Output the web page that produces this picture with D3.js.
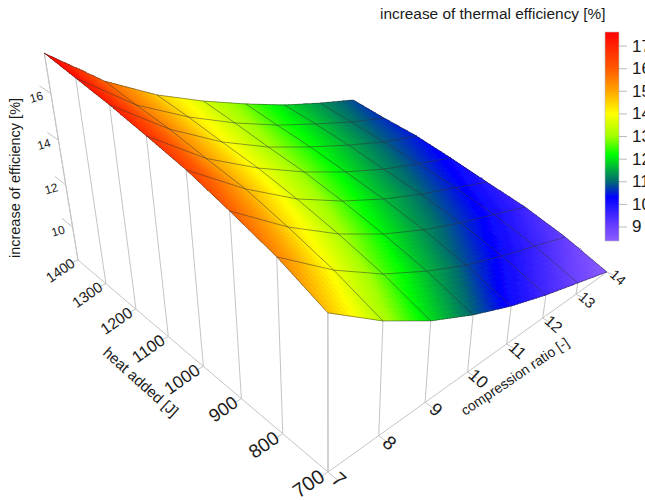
<!DOCTYPE html>
<html>
<head>
<meta charset="utf-8">
<script src="https://cdn.jsdelivr.net/npm/d3@7"></script>
<style>
  html, body { margin: 0; padding: 0; background: #fff; overflow: hidden; }
  text { font-family: "Liberation Sans", Arial, sans-serif; }
</style>
</head>
<body>
<svg id="chart" width="645" height="500"></svg>
<script>
const compressionRatio = [7, 8, 9, 10, 11, 12, 13, 14];
const heatAdded = [700, 800, 900, 1000, 1100, 1200, 1300, 1400];
const efficiencyTicks = [10, 12, 14, 16];
const legendTicks = [9, 10, 11, 12, 13, 14, 15, 16, 17];

// one row per heat added value, one column per compression ratio
const efficiency700 = [14.67, 13.15, 11.92, 10.95, 10.14, 9.48, 8.92, 8.36];
const efficiency800 = [15.43, 13.86, 12.60, 11.62, 10.80, 10.15, 9.58, 9.02];
const efficiency900 = [15.97, 14.40, 13.12, 12.11, 11.30, 10.64, 10.08, 9.51];
const efficiency1000 = [16.46, 14.86, 13.54, 12.52, 11.69, 11.00, 10.42, 9.82];
const efficiency1100 = [16.80, 15.12, 13.88, 12.85, 11.99, 11.27, 10.70, 10.16];
const efficiency1200 = [17.12, 15.42, 14.10, 13.07, 12.27, 11.56, 10.92, 10.45];
const efficiency1300 = [17.37, 15.60, 14.35, 13.33, 12.47, 11.77, 11.12, 10.59];
const efficiency1400 = [17.62, 15.83, 14.54, 13.55, 12.70, 11.93, 11.32, 10.78];
const surface = [efficiency700, efficiency800, efficiency900, efficiency1000,
                 efficiency1100, efficiency1200, efficiency1300, efficiency1400];

const zFloor = 8.36;
const zTop = 17.62;

const colorStops = [8.36, 9, 10.3, 11, 12.2, 13, 14, 15, 16, 17.62];
const colorValues = ["#8a5cff", "#6a40ff", "#0000ff", "#006a70", "#00ff00", "#a0ff00",
                     "#ffff00", "#ffa500", "#ff5a00", "#ff0000"];

const svg = d3.select("#chart");
const color = d3.scaleLinear().domain(colorStops).range(colorValues);

const uScale = d3.scaleLinear().domain([7, 14]).range([0, 1]);
const vScale = d3.scaleLinear().domain([700, 1400]).range([0, 1]);
const tScale = d3.scaleLinear().domain([zFloor, zTop]).range([0, 1]);

// perspective camera, calibrated by hand on the floor corners and z axis
function depth(cr, q, z) {
    return 1 + 0.335 * uScale(cr) + 0.3256 * vScale(q) - 0.157 * tScale(z);
}

function project(cr, q, z) {
    const u = uScale(cr), v = vScale(q), t = tScale(z);
    const w = depth(cr, q, z);
    return [
        (328 + 482.3 * u - 224.6 * v - 51.65 * t) / w,
        (472 - 108.9 * u - 127.3 * v - 282.6 * t) / w
    ];
}

const gridColor = "#c4c4c4";
const labelColor = "#1a1a1a";
const line = d3.line();

const defs = svg.append("defs");
defs.append("filter").attr("id", "soft")
    .attr("x", "-5%").attr("y", "-5%").attr("width", "110%").attr("height", "110%")
    .append("feGaussianBlur").attr("stdDeviation", 0.55);

const axes = svg.append("g").attr("fill", "none").attr("stroke", gridColor).attr("stroke-width", 1);

// floor edges and z axis
axes.append("path").attr("d", line([project(7, 700, zFloor), project(14, 700, zFloor)]));
axes.append("path").attr("d", line([project(7, 700, zFloor), project(7, 1400, zFloor)]));
axes.append("path").attr("d", line([project(7, 1400, zFloor), project(7, 1400, zTop)]));

// walls: verticals from the floor up to the surface
heatAdded.forEach((q, i) => {
    axes.append("path").attr("d", line([project(7, q, zFloor), project(7, q, surface[i][0])]));
    axes.append("path").attr("d", line([project(7, q, zFloor), project(6.85, q, zFloor)]));
});
compressionRatio.forEach((cr, j) => {
    axes.append("path").attr("d", line([project(cr, 700, zFloor), project(cr, 700, surface[0][j])]));
    axes.append("path").attr("d", line([project(cr, 700, zFloor), project(cr, 680, zFloor)]));
});
efficiencyTicks.forEach(z => {
    axes.append("path").attr("d", line([project(7, 1400, z), project(7, 1440, z)]));
});

// surface, back cells first, each cell split up so the colour runs smoothly
const steps = 10;
const cells = svg.append("g").attr("filter", "url(#soft)").attr("shape-rendering", "crispEdges");
const cellLines = svg.append("g").attr("fill", "none").attr("stroke", "#333")
    .attr("stroke-opacity", 0.7).attr("stroke-width", 0.7);

function zAt(i, j, a, b) {
    return (1 - a) * (1 - b) * surface[i][j] + (1 - a) * b * surface[i][j + 1]
        + a * (1 - b) * surface[i + 1][j] + a * b * surface[i + 1][j + 1];
}

for (let i = heatAdded.length - 2; i >= 0; i--) {
    for (let j = compressionRatio.length - 2; j >= 0; j--) {
        const qAt = a => heatAdded[i] + a * (heatAdded[i + 1] - heatAdded[i]);
        const crAt = b => compressionRatio[j] + b * (compressionRatio[j + 1] - compressionRatio[j]);
        for (let m = steps - 1; m >= 0; m--) {
            for (let n = steps - 1; n >= 0; n--) {
                const a0 = m / steps, a1 = (m + 1) / steps, b0 = n / steps, b1 = (n + 1) / steps;
                const quad = [
                    project(crAt(b0), qAt(a0), zAt(i, j, a0, b0)),
                    project(crAt(b1), qAt(a0), zAt(i, j, a0, b1)),
                    project(crAt(b1), qAt(a1), zAt(i, j, a1, b1)),
                    project(crAt(b0), qAt(a1), zAt(i, j, a1, b0))
                ];
                const c = color(zAt(i, j, (a0 + a1) / 2, (b0 + b1) / 2));
                cells.append("path")
                    .attr("d", line(quad) + "Z")
                    .attr("fill", c)
                    .attr("stroke", c)
                    .attr("stroke-width", 0.5);
            }
        }
    }
}

// mesh lines
surface.forEach((row, i) => {
    cellLines.append("path").attr("d", line(row.map((z, j) => project(compressionRatio[j], heatAdded[i], z))));
});
compressionRatio.forEach((cr, j) => {
    cellLines.append("path").attr("d", line(surface.map((row, i) => project(cr, heatAdded[i], row[j]))));
});

// tick labels, they shrink with distance like in the perspective view
const fontByDepth = d3.scaleLinear().domain([1, 1.33]).range([20, 14]);

const labels = svg.append("g").attr("fill", labelColor);

heatAdded.forEach(q => {
    const p = project(7, q, zFloor);
    const f = fontByDepth(depth(7, q, zFloor));
    labels.append("text")
        .attr("transform", `translate(${p[0] - 2},${p[1] + f * 0.38}) rotate(-35)`)
        .attr("text-anchor", "end")
        .attr("font-size", f)
        .text(q);
});
compressionRatio.forEach(cr => {
    const p = project(cr, 700, zFloor);
    const f = fontByDepth(depth(cr, 700, zFloor));
    labels.append("text")
        .attr("transform", `translate(${p[0] + 11},${p[1] + f * 0.38}) rotate(42)`)
        .attr("text-anchor", "middle")
        .attr("dy", "0.35em")
        .attr("font-size", f)
        .text(cr);
});
efficiencyTicks.forEach(z => {
    const p = project(7, 1400, z);
    labels.append("text")
        .attr("transform", `translate(${p[0] - 7},${p[1] + 6}) rotate(-16)`)
        .attr("text-anchor", "end")
        .attr("font-size", 12)
        .text(z);
});

labels.append("text")
    .attr("transform", "translate(20,178) rotate(-90)")
    .attr("text-anchor", "middle")
    .attr("font-size", 14.5)
    .text("increase of efficiency [%]");
labels.append("text")
    .attr("transform", "translate(102,354) rotate(42)")
    .attr("font-size", 15)
    .text("heat added [J]");
labels.append("text")
    .attr("transform", "translate(465,416) rotate(-34)")
    .attr("font-size", 14)
    .text("compression ratio [-]");

// legend
const legendY = d3.scaleLinear().domain([zFloor, 17.6]).range([241, 32]);
const grad = defs.append("linearGradient").attr("id", "legendGrad")
    .attr("x1", 0).attr("x2", 0).attr("y1", 1).attr("y2", 0);
colorStops.forEach((s, i) => {
    grad.append("stop")
        .attr("offset", (s - zFloor) / (zTop - zFloor))
        .attr("stop-color", colorValues[i]);
});
svg.append("rect")
    .attr("x", 605).attr("y", 32).attr("width", 14).attr("height", 209)
    .attr("fill", "url(#legendGrad)")
    .attr("stroke", "#bbb").attr("stroke-width", 0.6);

const legendAxis = d3.axisRight(legendY).tickValues(legendTicks).tickSize(8).tickPadding(5).tickSizeOuter(0);
const legendG = svg.append("g").attr("transform", "translate(619,0)").call(legendAxis);
legendG.select(".domain").remove();
legendG.selectAll("line").attr("stroke", "#bbb");
legendG.selectAll("text")
    .attr("font-size", 17)
    .attr("font-family", "Liberation Sans")
    .attr("fill", labelColor);

svg.append("text")
    .attr("x", 380).attr("y", 19)
    .attr("font-size", 15.4)
    .attr("fill", labelColor)
    .text("increase of thermal efficiency [%]");
</script>
</body>
</html>
